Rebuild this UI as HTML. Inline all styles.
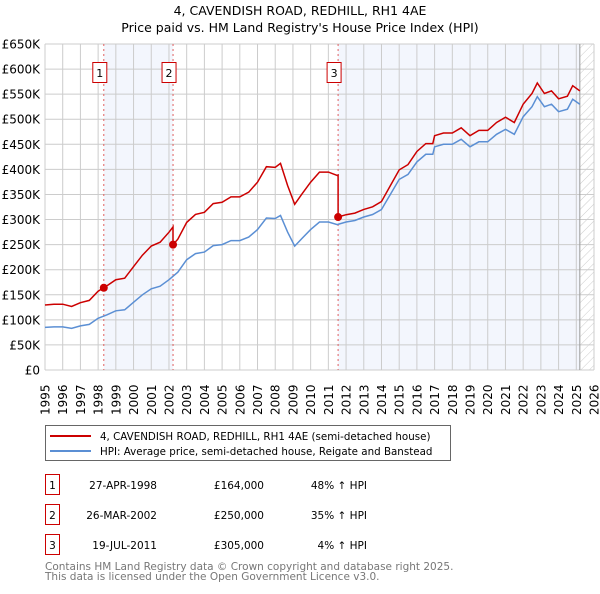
<!DOCTYPE html>
<html><head><meta charset="utf-8"><style>
body{margin:0;background:#fff;font-family:"DejaVu Sans","Liberation Sans",sans-serif;}
svg text{font-family:"DejaVu Sans","Liberation Sans",sans-serif;}
</style></head><body>
<svg id="c" width="600" height="590" xmlns="http://www.w3.org/2000/svg">
<defs><pattern id="hatch" width="6" height="6" patternUnits="userSpaceOnUse" patternTransform="rotate(45)"><line x1="0" y1="0" x2="0" y2="6" stroke="#ccc" stroke-width="1"/></pattern></defs>
<text x="300" y="15" text-anchor="middle" font-size="12.5">4, CAVENDISH ROAD, REDHILL, RH1 4AE</text>
<text x="300" y="32" text-anchor="middle" font-size="12.5">Price paid vs. HM Land Registry's House Price Index (HPI)</text>
<g id="plot"></g>
<g>
<rect x="45.5" y="425.5" width="405" height="35" fill="#fff" stroke="#666"/>
<line x1="50" y1="436" x2="91" y2="436" stroke="#cc0000" stroke-width="2"/>
<text x="100" y="440" font-size="10.3">4, CAVENDISH ROAD, REDHILL, RH1 4AE (semi-detached house)</text>
<line x1="50" y1="451" x2="91" y2="451" stroke="#5b8fd4" stroke-width="2"/>
<text x="100" y="455" font-size="10.3">HPI: Average price, semi-detached house, Reigate and Banstead</text>
</g>
<g id="table" font-size="10.5"></g>
<text x="45" y="570" font-size="10.5" fill="#777">Contains HM Land Registry data © Crown copyright and database right 2025.</text>
<text x="45" y="580" font-size="10.5" fill="#777">This data is licensed under the Open Government Licence v3.0.</text>
</svg>
<script>
const hpiYears=[1995,1995.5,1996,1996.5,1997,1997.5,1998,1998.5,1999,1999.5,2000,2000.5,2001,2001.5,2002,2002.5,2003,2003.5,2004,2004.5,2005,2005.5,2006,2006.5,2007,2007.5,2008,2008.3,2008.7,2009.1,2009.5,2010,2010.5,2011,2011.5,2012,2012.5,2013,2013.5,2014,2014.5,2015,2015.5,2016,2016.5,2016.9,2017,2017.5,2018,2018.5,2019,2019.5,2020,2020.5,2021,2021.5,2022,2022.5,2022.8,2023.2,2023.6,2024,2024.5,2024.8,2025.2];
const hpiValues=[85,86,86,83,88,91,103,110,118,120,135,150,162,167,180,195,220,232,235,248,250,258,258,265,280,303,302,308,275,247,262,280,295,295,290,295,298,305,310,320,350,380,390,415,430,430,445,450,450,460,445,455,455,470,480,470,505,525,545,525,530,515,520,540,530];
const saleLabels=["1","2","3"];
const saleYears=[1998.32,2002.23,2011.55];
const salePrices=[164,250,305];
const saleDates=["27-APR-1998","26-MAR-2002","19-JUL-2011"];
const salePriceText=["£164,000","£250,000","£305,000"];
const salePctText=["48% ↑ HPI","35% ↑ HPI","4% ↑ HPI"];
const yTicks=[0,50,100,150,200,250,300,350,400,450,500,550,600,650];
const xTicks=[1995,1996,1997,1998,1999,2000,2001,2002,2003,2004,2005,2006,2007,2008,2009,2010,2011,2012,2013,2014,2015,2016,2017,2018,2019,2020,2021,2022,2023,2024,2025,2026];

const L=45,R=594,T=44,B=370;
const x=v=>L+(v-1995)*(R-L)/31;
const y=v=>B-v*(B-T)/650;
const NS="http://www.w3.org/2000/svg";
const plot=document.getElementById('plot');
function mk(tag,attrs,parent){const e=document.createElementNS(NS,tag);for(const k in attrs)e.setAttribute(k,attrs[k]);(parent||plot).appendChild(e);return e;}
function hpiAt(t){for(let i=0;i<hpiYears.length-1;i++){if(t<=hpiYears[i+1]){const f=(t-hpiYears[i])/(hpiYears[i+1]-hpiYears[i]);return hpiValues[i]+f*(hpiValues[i+1]-hpiValues[i]);}}return hpiValues[hpiValues.length-1];}

let bg=mk('rect',{x:L,y:T,width:R-L,height:B-T,fill:'#fff'});


let s1=mk('rect',{x:x(saleYears[0]),y:T,width:x(saleYears[1])-x(saleYears[0]),height:B-T,fill:'#f3f6fd'});


let s2=mk('rect',{x:x(saleYears[2]),y:T,width:x(2025.2)-x(saleYears[2]),height:B-T,fill:'#f3f6fd'});


let h=mk('rect',{x:x(2025.2),y:T,width:R-x(2025.2),height:B-T,fill:'url(#hatch)'});


yTicks.forEach(v=>{
 let g=mk('line',{x1:L,x2:R,y1:y(v),y2:y(v),stroke:'#ccc'});
 
 
 let t=mk('text',{x:40,y:y(v)+4.5,'text-anchor':'end','font-size':12});
 t.textContent=v===0?'£0':'£'+v+'K';
 
 
});
xTicks.forEach(v=>{
 let g=mk('line',{x1:x(v),x2:x(v),y1:T,y2:B,stroke:'#ccc'});
 
 
 let t=mk('text',{x:0,y:0,'font-size':12,transform:`translate(${x(v)+4.5},${415}) rotate(-90)`});
 t.textContent=v;
 
 
});
let el=mk('line',{x1:x(2025.2),x2:x(2025.2),y1:T,y2:B,stroke:'#999'});


saleYears.forEach((s,i)=>{
 let v=mk('line',{x1:x(s),x2:x(s),y1:T,y2:B,stroke:'#e06060','stroke-dasharray':'2,3'});
 
 
 let b=mk('rect',{x:x(s)-11,y:62.5,width:14,height:20,fill:'#fff',stroke:'#cc0000'});
 
 
 let t=mk('text',{x:x(s)-4,y:77,'text-anchor':'middle','font-size':11});
 t.textContent=saleLabels[i];
 
 
});
let hp=hpiYears.map((t,i)=>x(t).toFixed(1)+','+y(hpiValues[i]).toFixed(1)).join(' ');
let hl=mk('polyline',{points:hp,fill:'none',stroke:'#5b8fd4','stroke-width':1.5});


let pts=[];
function seg(ts,te,k){pts.push([ts,salePrices[k]*hpiAt(ts)/hpiAt(saleYears[k])]);hpiYears.forEach(t=>{if(t>ts&&t<te)pts.push([t,salePrices[k]*hpiAt(t)/hpiAt(saleYears[k])]);});pts.push([te,salePrices[k]*hpiAt(te)/hpiAt(saleYears[k])]);}
seg(1995,saleYears[1],0);
seg(saleYears[1],saleYears[2],1);
seg(saleYears[2],2025.2,2);
let pl=mk('polyline',{points:pts.map(p=>x(p[0]).toFixed(1)+','+y(p[1]).toFixed(1)).join(' '),fill:'none',stroke:'#cc0000','stroke-width':1.5});


saleYears.forEach((s,i)=>{
 let d=mk('circle',{cx:x(s),cy:y(salePrices[i]),r:4,fill:'#cc0000'});
 
 
});
const tb=document.getElementById('table');
saleYears.forEach((s,i)=>{
 const yy=485+i*30;
 let b=mk('rect',{x:45.5,y:yy-10.5,width:14,height:20,fill:'#fff',stroke:'#cc0000'},tb);
 
 
 let a=mk('text',{x:52.5,y:yy+4,'text-anchor':'middle'},tb);a.textContent=saleLabels[i];
 
 
 let d=mk('text',{x:157,y:yy+4,'text-anchor':'end'},tb);d.textContent=saleDates[i];
 
 
 let p=mk('text',{x:264,y:yy+4,'text-anchor':'end'},tb);p.textContent=salePriceText[i];
 
 
 let c=mk('text',{x:367,y:yy+4,'text-anchor':'end'},tb);c.textContent=salePctText[i];
 
 
});
</script>
</body></html>
